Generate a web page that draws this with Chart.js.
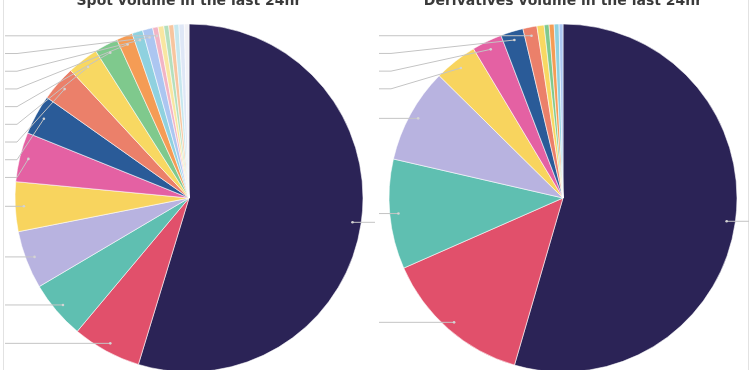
<!DOCTYPE html>
<html>
<head>
<meta charset="utf-8">
<script src="https://cdn.jsdelivr.net/npm/chart.js@4.4.0/dist/chart.umd.min.js"></script>
<style>
  html, body { margin: 0; padding: 0; background: #fff; overflow: hidden; }
  body { width: 755px; height: 370px; position: relative; }
  .panel { position: absolute; top: -30px; width: 378px; height: 406px; }
  #leftPanel { left: 0; }
  #rightPanel { left: 374px; }
  .edge { position: absolute; top: 0; width: 1px; height: 370px; background: #e2e2e2; }
</style>
</head>
<body>
<div class="edge" style="left:3px"></div>
<div class="edge" style="left:748px"></div>
<div class="panel" id="leftPanel"><canvas id="spotChart" width="378" height="406"></canvas></div>
<div class="panel" id="rightPanel"><canvas id="derivChart" width="378" height="406"></canvas></div>
<script>
// shares of volume (%), biggest first
const spotShares = [54.7, 6.4, 5.4, 5.4, 4.6, 4.6, 3.7, 3.3, 2.9, 2.2, 1.5, 1.0, 0.95, 0.5, 0.53, 0.45, 0.47, 0.47, 0.5, 0.43];
const derivShares = [54.5, 13.9, 10.2, 8.8, 4.0, 2.8, 2.1, 1.3, 0.67, 0.45, 0.47, 0.45, 0.36];
const spotNames = spotShares.map((v, i) => 'Exchange ' + (i + 1));
const derivNames = derivShares.map((v, i) => 'Exchange ' + (i + 1));
// how many slices got a data label (the rest had no room)
const spotLabelled = 14;
const derivLabelled = 8;

const palette = ['#2b2356', '#e1506b', '#5fbfb1', '#b8b3e0', '#f8d45e', '#e461a3', '#2a5b98', '#eb806a',
  '#f8d862', '#7fc98d', '#f59c55', '#8fd1df', '#acc6f1', '#f2b4c5', '#f9e6a1', '#b4dfbd',
  '#f7c59f', '#c6e7ee', '#dfe7f6', '#f1f1f6'];

// leader lines like the original's data labels (text sits outside the crop)
const connectors = {
  id: 'connectors',
  afterDatasetsDraw(chart, args, opts) {
    const ctx = chart.ctx;
    const arcs = chart.getDatasetMeta(0).data;
    const left = [], right = [];
    arcs.slice(0, opts.count).forEach(a => {
      const mid = (a.startAngle + a.endAngle) / 2;
      const r = a.outerRadius * 0.95;
      const p = { ax: a.x + Math.cos(mid) * r, ay: a.y + Math.sin(mid) * r, cx: a.x, R: a.outerRadius };
      p.ly = p.ay;
      (Math.cos(mid) >= 0 ? right : left).push(p);
    });
    [left, right].forEach(side => {
      side.sort((a, b) => a.ay - b.ay);
      let prev = -Infinity;
      side.forEach(p => { p.ly = Math.max(p.ay, prev + 17.7); prev = p.ly; });
    });
    ctx.save();
    ctx.strokeStyle = '#c4c4c4';
    ctx.fillStyle = '#d4d4d4';
    ctx.lineWidth = 1;
    left.forEach(p => {
      const lx = p.cx - p.R - 10;
      ctx.beginPath();
      ctx.moveTo(lx, p.ly);
      ctx.lineTo(lx + 12, p.ly);
      ctx.lineTo(p.ax, p.ay);
      ctx.stroke();
    });
    right.forEach(p => {
      const lx = p.cx + p.R + 12;
      ctx.beginPath();
      ctx.moveTo(lx, p.ly);
      ctx.lineTo(lx - 12, p.ly);
      ctx.lineTo(p.ax, p.ay);
      ctx.stroke();
    });
    [...left, ...right].forEach(p => {
      ctx.beginPath();
      ctx.arc(p.ax, p.ay, 1.3, 0, Math.PI * 2);
      ctx.fill();
    });
    ctx.restore();
  }
};

function makePie(id, title, names, shares, count) {
  return new Chart(document.getElementById(id), {
    type: 'pie',
    data: {
      labels: names,
      datasets: [{
        data: shares,
        backgroundColor: palette.slice(0, shares.length),
        borderColor: 'rgba(255,255,255,0.7)',
        borderWidth: 0.8,
        hoverOffset: 0
      }]
    },
    options: {
      responsive: false,
      animation: false,
      radius: 174,
      layout: { padding: 0 },
      plugins: {
        legend: { display: false },
        tooltip: { enabled: false },
        title: {
          display: true,
          text: title,
          color: '#3a3a3a',
          font: { family: 'DejaVu Sans', size: 14, weight: 'bold', lineHeight: 1.2 },
          padding: { top: 23.2, bottom: 10 }
        },
        connectors: { count: count }
      }
    },
    plugins: [connectors]
  });
}

makePie('spotChart', 'Spot volume in the last 24hr', spotNames, spotShares, spotLabelled);
makePie('derivChart', 'Derivatives volume in the last 24hr', derivNames, derivShares, derivLabelled);
</script>
</body>
</html>
